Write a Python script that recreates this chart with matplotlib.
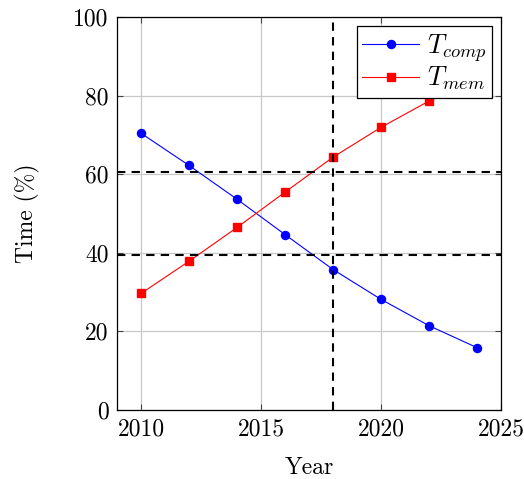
import matplotlib
matplotlib.use("Agg")
import matplotlib.pyplot as plt

years = [2010, 2012, 2014, 2016, 2018, 2020, 2022, 2024]
t_comp = [70.4, 62.2, 53.6, 44.6, 35.7, 28.1, 21.4, 15.8]
t_mem = [29.6, 37.8, 46.4, 55.4, 64.3, 71.9, 78.6, 84.2]
hlines = [60.5, 39.5]
vline = 2018
xticks = [2010, 2015, 2020, 2025]
yticks = [0, 20, 40, 60, 80, 100]

plt.rcParams['font.family'] = ['cmr10']
plt.rcParams['mathtext.fontset'] = 'cm'
plt.rcParams['axes.unicode_minus'] = False

fig = plt.figure(figsize=(5.24, 4.79), dpi=100)
ax = fig.add_axes([117/524, 1-409.7/479, (501-117)/524, (409.7-17)/479])

ax.grid(True, color='#c8c8c8', linewidth=0.9, zorder=0)
ax.set_axisbelow(True)

ax.plot(years, t_comp, color='blue', marker='o', markersize=5.8, linewidth=0.8,
        label=r'$T_{comp}$', zorder=3)
ax.plot(years, t_mem, color='red', marker='s', markersize=5.8, linewidth=0.8,
        label=r'$T_{mem}$', zorder=3)

for h in hlines:
    ax.axhline(h, color='black', linestyle=(0, (4, 3)), linewidth=1.5, zorder=4)
ax.axvline(vline, color='black', linestyle=(0, (4, 3)), linewidth=1.5, zorder=4)

ax.set_xlim(2009, 2025)
ax.set_ylim(0, 100)
ax.set_xticks(xticks)
ax.set_yticks(yticks)
ax.set_xticklabels([str(v) for v in xticks])
ax.set_yticklabels([str(v) for v in yticks])
ax.tick_params(direction='in', length=4, width=0.8, labelsize=17, pad=6,
               top=True, right=True, colors='#444444', labelcolor='black')
for s in ax.spines.values():
    s.set_color('black')
    s.set_linewidth(0.9)

ax.set_xlabel('Year', fontsize=17, labelpad=12)
ax.set_ylabel('Time (%)', fontsize=17, labelpad=24)

leg = ax.legend(loc='upper right', fontsize=19, fancybox=False, framealpha=1,
                edgecolor='black', borderaxespad=0.35, handlelength=2.15,
                borderpad=0.2, labelspacing=0.05, handletextpad=0.3)
leg.get_frame().set_linewidth(0.9)
leg.set_zorder(10)

fig.savefig('out.png', dpi=100)
